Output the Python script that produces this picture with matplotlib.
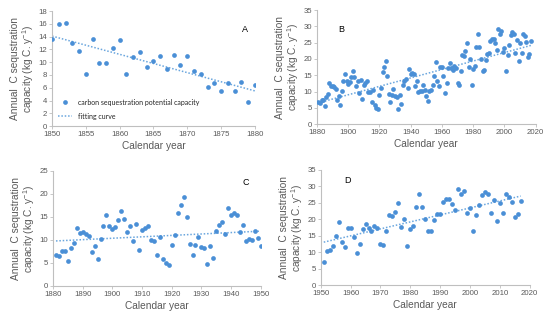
import matplotlib

matplotlib.use("Agg")
import matplotlib.pyplot as plt
import numpy as np

plt.rcParams["font.family"] = ["Liberation Sans", "DejaVu Sans"]
plt.rcParams["mathtext.fontset"] = "custom"
plt.rcParams["mathtext.rm"] = "Liberation Sans"
plt.rcParams["mathtext.it"] = "Liberation Sans:italic"

# Panel A: 1850-1880
years_a = list(range(1850, 1881))
vals_a = [13.7, 15.9, 16.2, 13.0, 11.8, 8.1, 13.7, 9.9, 9.9, 12.2, 13.4, 8.2, 10.8,
          11.6, 9.3, 10.2, 10.9, 8.9, 11.1, 9.5, 11.0, 8.6, 8.2, 6.1, 6.7, 5.5, 6.8,
          5.5, 6.9, 3.7, 6.4]

# Panel C: 1881-1950
years_c = list(range(1881, 1951))
vals_c = [6.8, 6.6, 7.5, 7.5, 5.5, 8.2, 9.3, 12.7, 11.6, 11.8, 11.3, 10.9, 7.3, 8.6,
          5.9, 10.2, 13.1, 15.5, 13.1, 12.4, 12.9, 14.4, 16.2, 14.6, 11.7, 13.1, 9.7,
          13.5, 7.8, 12.1, 12.5, 13.1, 9.9, 9.8, 6.8, 10.6, 5.8, 5.1, 4.5, 9.0, 11.0,
          15.9, 17.5, 19.4, 14.9, 9.2, 6.8, 9.0, 10.7, 8.5, 8.2, 4.7, 8.8, 6.1, 12.0,
          13.2, 13.9, 11.2, 17.0, 15.4, 15.8, 15.5, 11.7, 13.3, 9.8, 10.2, 10.1, 12.0,
          10.5, 8.7]

# Panel D: 1951-2017
years_d = list(range(1951, 2018))
vals_d = [7.0, 10.2, 10.6, 11.9, 14.8, 19.1, 13.1, 11.7, 17.4, 17.4, 14.7, 9.6, 12.5,
          17.1, 18.7, 17.2, 16.5, 17.9, 17.3, 12.5, 12.1, 16.4, 21.3, 21.0, 22.3, 25.0,
          17.5, 20.0, 11.9, 17.0, 17.9, 23.6, 27.7, 23.8, 20.0, 16.4, 16.5, 19.7, 21.6,
          21.7, 25.4, 26.2, 26.2, 24.8, 22.8, 29.2, 27.8, 28.5, 22.0, 23.3, 16.4, 21.2,
          24.3, 27.3, 28.3, 27.8, 21.8, 25.8, 19.4, 25.0, 21.8, 27.8, 26.9, 25.2, 20.6,
          21.6, 25.5]

# Panel B: the whole record 1881-2017
years_b = years_c + years_d
vals_b = vals_c + vals_d

DOT = "#4a8fd6"
FIT = "#6aa6de"
AXC = "#bfbfbf"
TXT = "#595959"
YLABEL = "Annual  C sequstration\ncapacity (kg C. y$^{-1}$)"

panels = [
    # letter, years, vals, rect, xlim, xticks, ylim, yticks, letter pos
    ("A", years_a, vals_a, [0.094, 0.612, 0.366, 0.354], (1850, 1880), range(1850, 1881, 5),
     (0, 18), range(0, 19, 2), (0.95, 0.84)),
    ("B", years_b, vals_b, [0.572, 0.618, 0.395, 0.351], (1880, 2020), range(1880, 2021, 20),
     (0, 35), range(0, 36, 5), (0.11, 0.83)),
    ("C", years_c, vals_c, [0.0957, 0.12, 0.375, 0.354], (1880, 1950), range(1880, 1951, 10),
     (0, 25), range(0, 26, 5), (0.93, 0.90)),
    ("D", years_d, vals_d, [0.579, 0.123, 0.377, 0.354], (1950, 2020), range(1950, 2021, 10),
     (0, 35), range(0, 36, 5), (0.13, 0.91)),
]

fig = plt.figure(figsize=(5.54, 3.25), dpi=100)

for letter, xs, ys, rect, xlim, xticks, ylim, yticks, lpos in panels:
    ax = fig.add_axes(rect)
    x = np.array(xs)
    y = np.array(ys)
    ax.plot(x, y, "o", color=DOT, ms=3.4, mew=0, zorder=3,
            label="carbon sequestration potential capacity")
    k, b = np.polyfit(x, y, 1)
    ax.plot(x, k * x + b, ls=(0, (1, 1.2)), color=FIT, lw=1.1, label="fitting curve")
    ax.set_xlim(*xlim)
    ax.set_ylim(*ylim)
    ax.set_xticks(list(xticks))
    ax.set_yticks(list(yticks))
    for s in ["top", "right"]:
        ax.spines[s].set_visible(False)
    for s in ["left", "bottom"]:
        ax.spines[s].set_color(AXC)
        ax.spines[s].set_linewidth(0.8)
    ax.tick_params(labelsize=5.6, colors=TXT, length=2, width=0.6, color=AXC, pad=1.5)
    ax.set_xlabel("Calendar year", fontsize=7.3, color=TXT, labelpad=2.5)
    ax.set_ylabel(YLABEL, fontsize=7.3, color=TXT, labelpad=2, linespacing=1.0)
    ax.text(lpos[0], lpos[1], letter, transform=ax.transAxes, fontsize=6.5,
            color="black", ha="center", va="center")
    if letter == "A":
        ax.legend(loc="lower left", bbox_to_anchor=(0.0, 0.0), frameon=False,
                  prop={"family": "Lato", "size": 5}, handlelength=2.0,
                  handletextpad=0.8, labelspacing=1.0, labelcolor="#262626")

fig.savefig("out.png", dpi=100)
